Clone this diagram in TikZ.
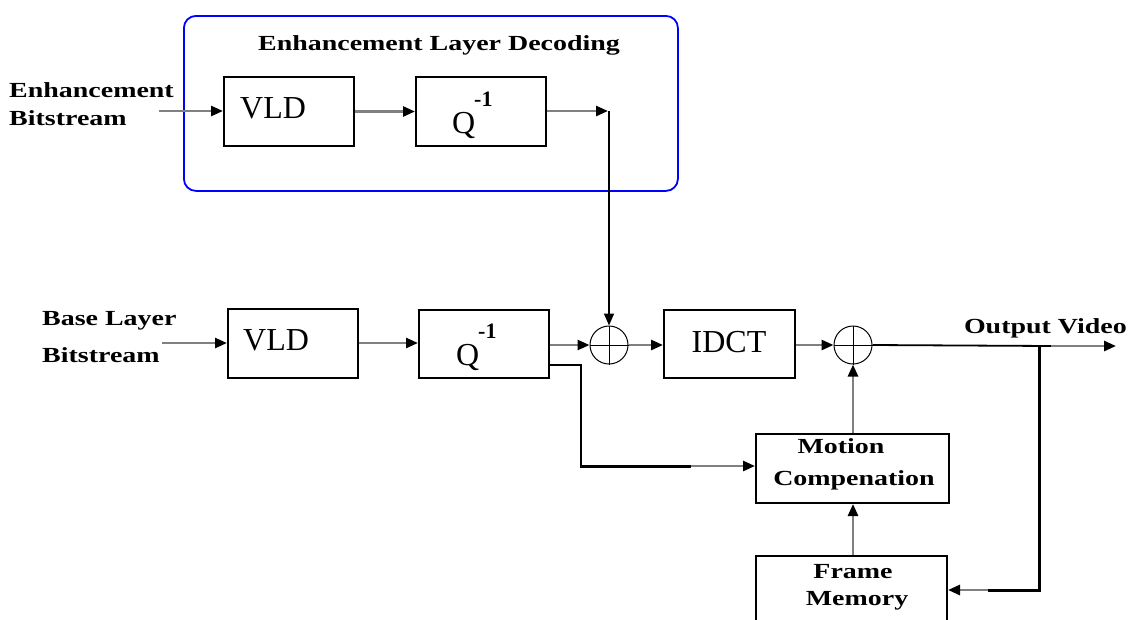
\documentclass[tikz,border=0pt]{standalone}
\usepackage{fontspec}
\setmainfont{Liberation Serif}
\newfontfamily\lblfont{Liberation Serif}[FakeStretch=1.3]
\usetikzlibrary{arrows.meta,calc}
\begin{document}
\begin{tikzpicture}[x=1pt,y=-1pt,
  lbl/.style={font={\lblfont\bfseries\fontsize{21.5}{21.5}\selectfont}, inner sep=0pt},
  bigtxt/.style={font={\fontsize{32}{32}\selectfont}, inner sep=0pt},
  suptxt/.style={font={\bfseries\fontsize{22}{22}\selectfont}, inner sep=0pt},
  blk/.style={draw=black, line width=2pt, inner sep=0pt, anchor=north west},
  sumnode/.style={circle, draw=black, line width=1pt, minimum size=38pt, inner sep=0pt},
  gar/.style={draw=gray, line width=2.6pt, -{Triangle[length=12pt,width=10pt,color=black]}},
  bar/.style={draw=black, line width=1.6pt, -{Triangle[length=12pt,width=10pt,color=black]}},
  bline/.style={draw=black, line width=1.8pt},
  thickline/.style={draw=black, line width=3pt}
]
\useasboundingbox (0,0) rectangle (1131,619);
\clip (0,0) rectangle (1131,619);

% enhancement layer container
\node[draw=blue, line width=1.8pt, rounded corners=12pt, minimum width=494pt, minimum height=175pt, inner sep=0pt, anchor=north west] (enh) at (183,15) {};
\node[lbl, anchor=base] (title) at (439,50) {Enhancement Layer Decoding};

% enhancement row
\node[lbl, anchor=base west] (elab1) at (9,97) {Enhancement};
\node[lbl, anchor=base west] (elab2) at (9,125) {Bitstream};
\node[blk, minimum width=130pt, minimum height=69pt] (evld) at (223,76) {};
\node[bigtxt, anchor=base west] (evldt) at (240,118) {VLD};
\node[blk, minimum width=130pt, minimum height=69pt] (eq) at (415,76) {};
\node[bigtxt, anchor=base west] (eqt) at (452,133) {Q};
\node[suptxt, anchor=base west] (eqs) at (474,106) {-1};

% base row
\node[lbl, anchor=base west] (blab1) at (42,325) {Base Layer};
\node[lbl, anchor=base west] (blab2) at (42,362) {Bitstream};
\node[blk, minimum width=130pt, minimum height=69pt] (bvld) at (227,308) {};
\node[bigtxt, anchor=base west] (bvldt) at (243,350) {VLD};
\node[blk, minimum width=130pt, minimum height=68pt] (bq) at (418,309) {};
\node[bigtxt, anchor=base west] (bqt) at (456,365) {Q};
\node[suptxt, anchor=base west] (bqs) at (478,338) {-1};

\node[sumnode] (s1) at (609,345) {};
\draw[line width=1pt] (s1.north) -- (s1.south) (s1.west) -- (s1.east);
\node[blk, minimum width=131pt, minimum height=68pt] (idct) at (663,309) {};
\node[bigtxt, anchor=base] (idctt) at (729,352) {IDCT};
\node[sumnode] (s2) at (853,345) {};
\draw[line width=1pt] (s2.north) -- (s2.south) (s2.west) -- (s2.east);

\node[lbl, anchor=base east] (outlab) at (1127,333) {Output Video};

\node[blk, minimum width=193pt, minimum height=69pt] (mc) at (755,433) {};
\node[lbl, anchor=base] (mct1) at (841,453) {Motion};
\node[lbl, anchor=base] (mct2) at (854,485) {Compenation};
\node[blk, minimum width=191pt, minimum height=100pt] (fm) at (755,555) {};
\node[lbl, anchor=base] (fmt1) at (853,578) {Frame};
\node[lbl, anchor=base] (fmt2) at (857,605) {Memory};

% coordinates
\coordinate (ein) at (159,111);
\coordinate (ecorner) at (609,111);
\coordinate (bin) at (162,343);
\coordinate (tap) at (1039,346);
\coordinate (outend) at (1116,346);
\coordinate (fbc) at (1039,590);
\coordinate (br1) at (581,365);
\coordinate (br2) at (581,466);

% enhancement connectors
\draw[gar] (ein) -- (ein -| evld.west);
\draw[gar] (evld.east) -- (evld.east -| eq.west);
\draw[gar] (eq.east |- ecorner) -- ([xshift=-1pt]ecorner);
\draw[bar] (ecorner) -- (s1.north);

% base connectors
\draw[gar] (bin) -- (bin -| bvld.west);
\draw[gar] (bvld.east |- bin) -- (bin -| bq.west);
\draw[gar] (bq.east |- s1.west) -- (s1.west);
\draw[gar] (s1.east) -- (s1.east -| idct.west);
\draw[gar] (idct.east |- s2.west) -- (s2.west);
\draw[bline] (s2.east) -- ([xshift=12pt]tap);
\draw[gar] ([xshift=12pt]tap) -- (outend);
\draw[thickline] (tap) -- (fbc) -- ([xshift=40pt]fbc -| fm.east);
\draw[gar] ([xshift=40pt]fbc -| fm.east) -- (fbc -| fm.east);

% motion compensation branch
\draw[bline] (bq.east |- br1) -- (br1) -- (br2);
\draw[thickline] ([xshift=-0.9pt]br2) -- ([xshift=110pt]br2);
\draw[gar] ([xshift=110pt]br2) -- (br2 -| mc.west);
\draw[gar] (s2 |- fm.north) -- (s2 |- mc.south);
\draw[gar] (s2 |- mc.north) -- (s2.south);
\end{tikzpicture}
\end{document}
